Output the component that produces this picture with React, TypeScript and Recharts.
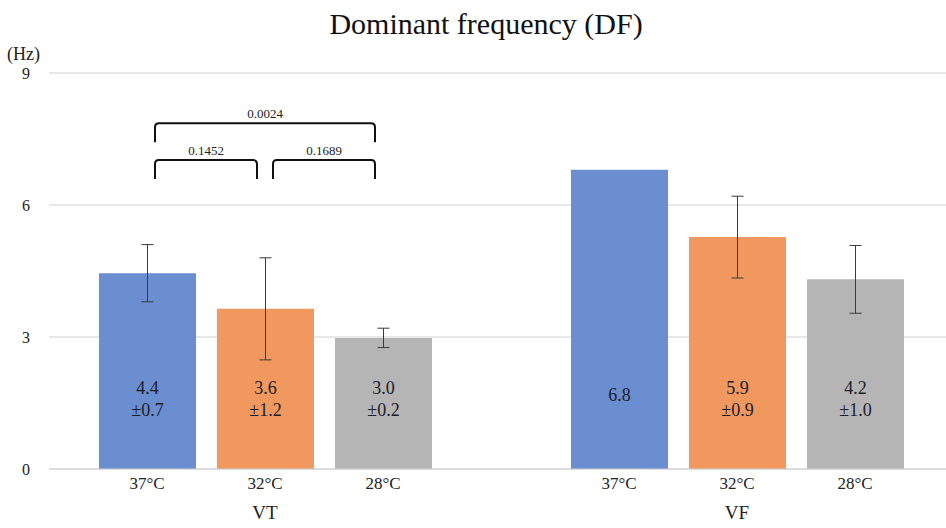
import { BarChart, Bar, XAxis, YAxis, CartesianGrid, ErrorBar, Cell, LabelList, ReferenceLine } from "recharts"

const groups = ["VT", "VF"]
const temps = ["37°C", "32°C", "28°C"]
const tempColors = ["#6a8ecf", "#f0985e", "#b5b5b5"]

// bar heights and error bars as drawn
const vtMeans = [4.45, 3.64, 2.98]
const vtErrors = [0.65, 1.16, 0.22]
const vfMeans = [6.8, 5.27, 4.31]
const vfErrors = [null, 0.93, 0.77]

// text printed inside the bars
const vtLabelMain = ["4.4", "3.6", "3.0"]
const vtLabelSd = ["±0.7", "±1.2", "±0.2"]
const vfLabelMain = ["6.8", "5.9", "4.2"]
const vfLabelSd = ["", "±0.9", "±1.0"]

const yTicks = [0, 3, 6, 9]

// significance brackets
const bracketFrom = ["VT-37°C", "VT-37°C", "VT-32°C"]
const bracketTo = ["VT-28°C", "VT-32°C", "VT-28°C"]
const bracketY = [7.86, 7.02, 7.02]
const bracketP = ["0.0024", "0.1452", "0.1689"]

const means = [vtMeans, vfMeans]
const errors = [vtErrors, vfErrors]
const labelMain = [vtLabelMain, vfLabelMain]
const labelSd = [vtLabelSd, vfLabelSd]

type Row = {
  key: string
  temp: string
  group: string
  mean: number | null
  err: number | null
  main: string
  sd: string
  color: string
}

const rows: Row[] = []
groups.forEach((g, gi) => {
  temps.forEach((t, ti) => {
    rows.push({
      key: `${g}-${t}`,
      temp: t,
      group: ti === 1 ? g : "",
      mean: means[gi][ti],
      err: errors[gi][ti],
      main: labelMain[gi][ti],
      sd: labelSd[gi][ti],
      color: tempColors[ti],
    })
  })
  // empty slot between the two groups
  if (gi === 0) {
    rows.push({ key: "gap", temp: "", group: "", mean: null, err: null, main: "", sd: "", color: "none" })
  }
})

const serif = "'Liberation Serif', 'Times New Roman', serif"

function XTick(props: any) {
  const { x, y, payload } = props
  const row = rows.find(r => r.key === payload.value)
  if (!row) return null
  return (
    <g>
      <text x={x} y={y} dy={12} textAnchor="middle" fontSize={17} fontFamily={serif} fill="#222">
        {row.temp}
      </text>
      {row.group && (
        <text x={x} y={y} dy={42} textAnchor="middle" fontSize={19} fontFamily={serif} fill="#222">
          {row.group}
        </text>
      )}
    </g>
  )
}

function BarText(props: any) {
  const { x, y, width, height, value } = props
  const row = rows.find(r => r.key === value)
  if (!row || row.mean == null) return null
  const cx = x + width / 2
  const bottom = y + height
  if (!row.sd) {
    return (
      <text x={cx} y={bottom - 74} dominantBaseline="central" textAnchor="middle" fontSize={18} fontFamily={serif} fill="#1c1c2a">
        {row.main}
      </text>
    )
  }
  return (
    <g fontSize={18} fontFamily={serif} fill="#1c1c2a" textAnchor="middle">
      <text x={cx} y={bottom - 81} dominantBaseline="central">{row.main}</text>
      <text x={cx} y={bottom - 59} dominantBaseline="central">{row.sd}</text>
    </g>
  )
}

function makeBracket(i: number) {
  return (p: any) => {
    const inset = 8
    const legs = 19
    const r = 4
    const a = Math.min(p.x1, p.x2) + inset
    const b = Math.max(p.x1, p.x2) - inset
    const y = p.y1
    const d = `M${a},${y + legs} L${a},${y + r} Q${a},${y} ${a + r},${y} L${b - r},${y} Q${b},${y} ${b},${y + r} L${b},${y + legs}`
    return (
      <g>
        <path d={d} fill="none" stroke="#111" strokeWidth={2} />
        <text x={(a + b) / 2} y={y - 10} dominantBaseline="central" textAnchor="middle" fontSize={13} fontFamily={serif} fill="#222">
          {bracketP[i]}
        </text>
      </g>
    )
  }
}

export default function App() {
  return (
    <div style={{ position: "absolute", left: 0, top: 0, width: 946, height: 528, background: "#fff", fontFamily: serif }}>
      <div style={{ position: "absolute", left: 0, width: 972, top: 6, textAlign: "center", fontSize: 30, color: "#111", lineHeight: "36px" }}>
        Dominant frequency (DF)
      </div>
      <div style={{ position: "absolute", left: 7, top: 43, fontSize: 18, color: "#222", lineHeight: "22px" }}>(Hz)</div>
      <BarChart
        width={946}
        height={528}
        data={rows}
        margin={{ top: 73, right: 0, left: 0, bottom: 0 }}
        barSize={97}
      >
        <CartesianGrid vertical={false} stroke="#d0d0d0" />
        <YAxis
          domain={[0, 9]}
          ticks={yTicks}
          width={49}
          axisLine={false}
          tickLine={false}
          tickMargin={13}
          tick={{ fontSize: 16, fontFamily: serif, fill: "#222" }}
        />
        <XAxis
          dataKey="key"
          height={59}
          padding={{ left: 39, right: 32 }}
          axisLine={{ stroke: "#d0d0d0" }}
          tickLine={false}
          tick={<XTick />}
          interval={0}
        />
        <Bar dataKey="mean" isAnimationActive={false}>
          {rows.map((r, i) => (
            <Cell key={i} fill={r.color} />
          ))}
          <ErrorBar dataKey="err" width={6} stroke="#3a3a3a" strokeWidth={1} direction="y" />
          <LabelList dataKey="key" content={<BarText />} />
        </Bar>
        {bracketP.map((p, i) => (
          <ReferenceLine
            key={p}
            segment={[
              { x: bracketFrom[i], y: bracketY[i] },
              { x: bracketTo[i], y: bracketY[i] },
            ]}
            shape={makeBracket(i)}
          />
        ))}
      </BarChart>
    </div>
  )
}
